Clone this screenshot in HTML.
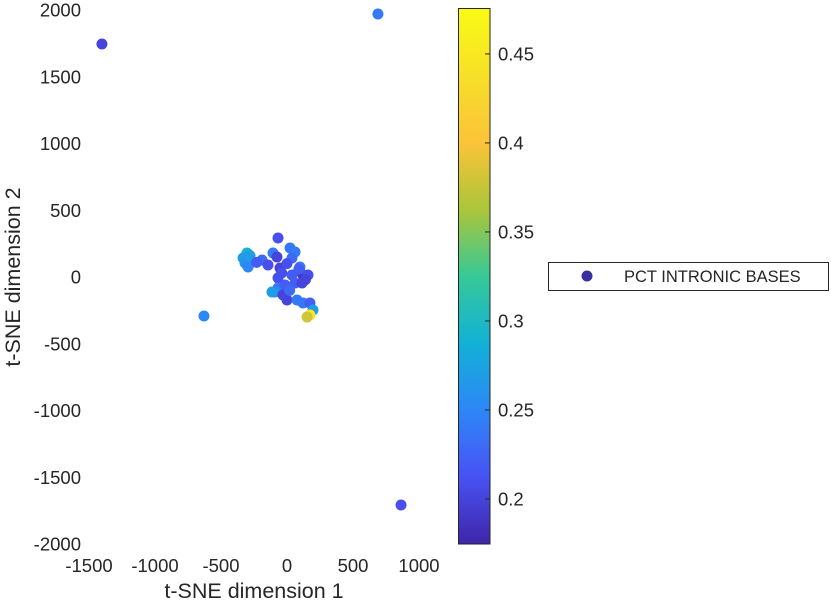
<!DOCTYPE html>
<html><head><meta charset="utf-8"><style>
body{margin:0;background:#fff;font-family:"Liberation Sans",sans-serif}
svg text{font-family:"Liberation Sans",sans-serif;fill:#262626}
</style></head><body>
<svg id="c" width="831" height="601" xmlns="http://www.w3.org/2000/svg">
<defs><linearGradient id="g" x1="0" y1="1" x2="0" y2="0">
<stop offset="0" stop-color="#3e26a8"/><stop offset="0.125" stop-color="#4852f4"/><stop offset="0.25" stop-color="#2d87f7"/><stop offset="0.375" stop-color="#12b1d6"/><stop offset="0.5" stop-color="#37c897"/><stop offset="0.625" stop-color="#abc639"/><stop offset="0.75" stop-color="#fcc338"/><stop offset="0.875" stop-color="#f6e028"/><stop offset="1" stop-color="#f9fb14"/></linearGradient></defs>
</svg>
<script>
const xs=[-68,-303,-333,-265,-318,-295,-189,-144,-106,-76,23,61,38,-53,98,121,159,-68,38,61,114,-68,-91,-15,0,76,121,174,197,174,152,-30,-114,-280,-230,0,90,140,-40,20,-1402,689,-629,864];
const ys=[292,180,142,112,105,75,127,90,180,150,217,187,142,67,75,15,15,-7,15,-45,-45,-82,-112,-60,-172,-172,-195,-195,-247,-285,-300,-135,-112,160,110,100,60,-20,30,-100,1745,1970,-292,-1708];
const cs=[0.21,0.29,0.27,0.25,0.26,0.25,0.23,0.21,0.24,0.2,0.24,0.24,0.23,0.2,0.24,0.19,0.21,0.21,0.22,0.22,0.2,0.24,0.25,0.22,0.2,0.24,0.24,0.22,0.27,0.45,0.38,0.2,0.27,0.27,0.22,0.21,0.22,0.2,0.21,0.23,0.2,0.24,0.25,0.21];
const xTicks=[-1500,-1000,-500,0,500,1000];
const yTicks=[2000,1500,1000,500,0,-500,-1000,-1500,-2000];
const cTicks=[0.2,0.25,0.3,0.35,0.4,0.45];
const NS="http://www.w3.org/2000/svg",svg=document.getElementById('c');
const X=v=>287+v*0.132, Y=v=>277-v*0.1335, C=v=>544-(v-0.1747)/(0.4758-0.1747)*536;
const stops=[[0,62,38,168],[.125,72,82,244],[.25,45,135,247],[.375,18,177,214],[.5,55,200,151],[.625,171,198,57],[.75,252,195,56],[.875,246,224,40],[1,249,251,20]];
function col(v){let t=(v-0.1747)/(0.4758-0.1747);t=Math.max(0,Math.min(1,t));for(let i=1;i<stops.length;i++){if(t<=stops[i][0]){const a=stops[i-1],b=stops[i],f=(t-a[0])/(b[0]-a[0]);return `rgb(${[1,2,3].map(k=>Math.round(a[k]+f*(b[k]-a[k]))).join(',')})`;}}return 'rgb(249,251,20)';}
function mk(t,a,p){const e=document.createElementNS(NS,t);for(const k in a)e.setAttribute(k,a[k]);(p||svg).appendChild(e);return e;}
xTicks.forEach(v=>{const t=mk('text',{x:X(v),y:572,'font-size':18.5,'text-anchor':'middle'});t.textContent=v;

});
yTicks.forEach(v=>{const t=mk('text',{x:81,y:Y(v)+6.5,'font-size':18.5,'text-anchor':'end'});t.textContent=v;

});
xs.forEach((v,i)=>{const c=mk('circle',{cx:X(v),cy:Y(ys[i]),r:5.5,fill:col(cs[i])});

});
const xt=mk('text',{x:254,y:598,'font-size':21.5,'text-anchor':'middle'});xt.textContent='t-SNE dimension 1';


const yt=mk('text',{x:0,y:0,'font-size':21.5,'text-anchor':'middle',transform:'translate(20,277) rotate(-90)'});yt.textContent='t-SNE dimension 2';


const cb=mk('rect',{x:458.5,y:8.5,width:31.5,height:535.5,fill:'url(#g)',stroke:'#262626','stroke-width':1});


cTicks.forEach(v=>{mk('line',{x1:485,x2:490,y1:C(v),y2:C(v),stroke:'#262626'});const t=mk('text',{x:498,y:C(v)+6.5,'font-size':18.5});t.textContent=v;

});
const lg=mk('rect',{x:548.5,y:262.5,width:280,height:28,fill:'#fff',stroke:'#262626'});


const lm=mk('circle',{cx:587,cy:276,r:5.5,fill:'#3a2f9e'});


const lt=mk('text',{x:624,y:282,'font-size':16.5,fill:'#000'});lt.textContent='PCT INTRONIC BASES';


</script>
</body></html>
